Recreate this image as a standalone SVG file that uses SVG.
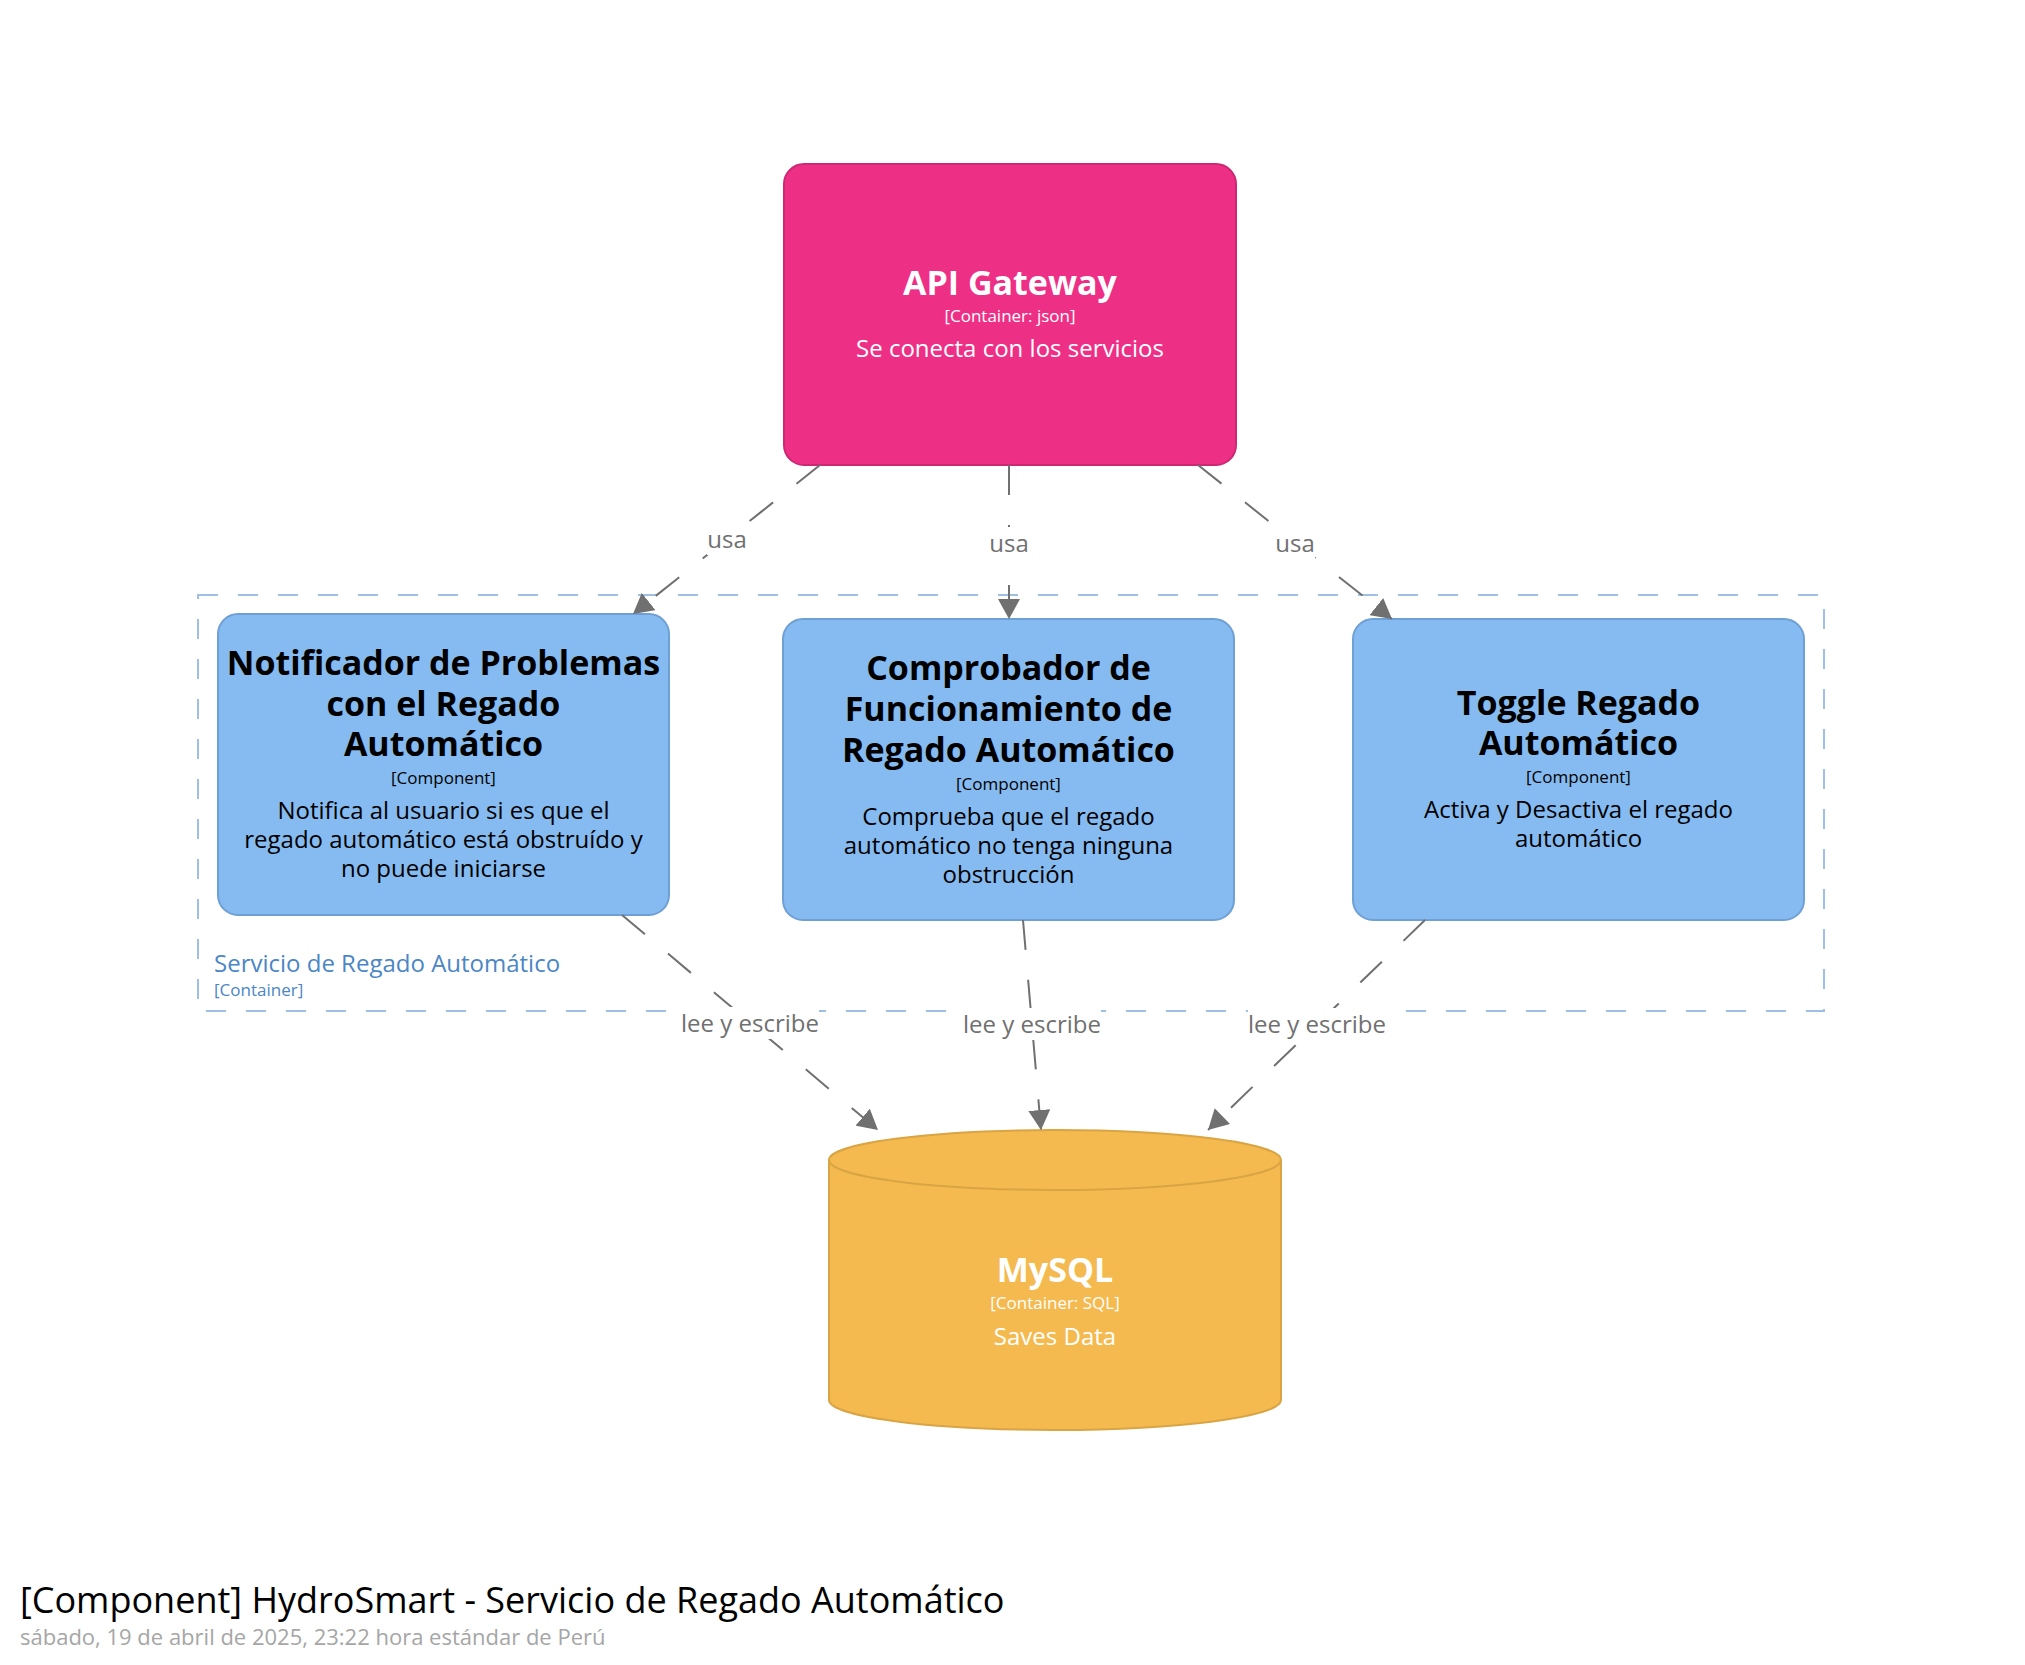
<svg xmlns="http://www.w3.org/2000/svg" width="2025" height="1665" viewBox="0 0 2025 1665">
<defs>
<style>
text{font-family:"Open Sans","Noto Sans","DejaVu Sans",sans-serif;text-anchor:middle}
.nm{font-size:34px;font-weight:bold}
.mt{font-size:17px}
.ds{font-size:24px}
.w{fill:#ffffff}
.k{fill:#000000}
.comp{fill:#85BBF0;stroke:#6E9FD5;stroke-width:2}
.rel{stroke:#707070;stroke-width:2;fill:none;stroke-dasharray:30 30;marker-end:url(#arr)}
.lbl{font-size:24px;fill:#707070}
.bg{fill:#ffffff}
</style>
<marker id="arr" viewBox="0 0 20 22" refX="20" refY="11" markerWidth="20" markerHeight="22" markerUnits="userSpaceOnUse" orient="auto">
<path d="M0,0 L20,11 L0,22 Z" fill="#707070"/>
</marker>
</defs>
<rect x="0" y="0" width="2025" height="1665" fill="#ffffff"/>

<g id="boundary">
<rect x="198" y="595" width="1626" height="416" fill="none" stroke="#9EC0E4" stroke-width="2" stroke-dasharray="20 20"/>
<text x="214" y="972" style="text-anchor:start;font-size:24px;fill:#4B86C6">Servicio de Regado Automático</text>
<text x="214" y="996" style="text-anchor:start;font-size:17px;fill:#4B86C6">[Container]</text>
</g>

<g id="api-gateway">
<rect x="784" y="164" width="452" height="301" rx="20" ry="20" fill="#EE2F86" stroke="#CC2874" stroke-width="2"/>
<text x="1010" y="295" class="nm w">API Gateway</text>
<text x="1010" y="322" class="mt w">[Container: json]</text>
<text x="1010" y="357" class="ds w">Se conecta con los servicios</text>
</g>

<g id="notificador">
<rect x="218" y="614" width="451" height="301" rx="20" ry="20" class="comp"/>
<text class="nm k"><tspan x="443.5" y="675">Notificador de Problemas</tspan><tspan x="443.5" y="716">con el Regado</tspan><tspan x="443.5" y="756">Automático</tspan></text>
<text x="443.5" y="784" class="mt k">[Component]</text>
<text class="ds k"><tspan x="443.5" y="819">Notifica al usuario si es que el</tspan><tspan x="443.5" y="848">regado automático está obstruído y</tspan><tspan x="443.5" y="877">no puede iniciarse</tspan></text>
</g>

<g id="comprobador">
<rect x="783" y="619" width="451" height="301" rx="20" ry="20" class="comp"/>
<text class="nm k"><tspan x="1008.5" y="680">Comprobador de</tspan><tspan x="1008.5" y="721">Funcionamiento de</tspan><tspan x="1008.5" y="762">Regado Automático</tspan></text>
<text x="1008.5" y="790" class="mt k">[Component]</text>
<text class="ds k"><tspan x="1008.5" y="825">Comprueba que el regado</tspan><tspan x="1008.5" y="854">automático no tenga ninguna</tspan><tspan x="1008.5" y="883">obstrucción</tspan></text>
</g>

<g id="toggle">
<rect x="1353" y="619" width="451" height="301" rx="20" ry="20" class="comp"/>
<text class="nm k"><tspan x="1578.5" y="715">Toggle Regado</tspan><tspan x="1578.5" y="755">Automático</tspan></text>
<text x="1578.5" y="783" class="mt k">[Component]</text>
<text class="ds k"><tspan x="1578.5" y="818">Activa y Desactiva el regado</tspan><tspan x="1578.5" y="847">automático</tspan></text>
</g>

<g id="mysql">
<path d="M829,1160 A226,30 0 0,1 1281,1160 L1281,1400 A226,30 0 0,1 829,1400 Z" fill="#F4BA4F" stroke="#D9A443" stroke-width="2"/>
<path d="M829,1160 A226,30 0 0,0 1281,1160" fill="none" stroke="#D9A443" stroke-width="2"/>
<text x="1055" y="1282" class="nm w">MySQL</text>
<text x="1055" y="1309" class="mt w">[Container: SQL]</text>
<text x="1055" y="1345" class="ds w">Saves Data</text>
</g>

<g id="connectors">
<line x1="820" y1="465" x2="633" y2="614" class="rel"/>
<line x1="1009" y1="465" x2="1009" y2="619" class="rel"/>
<line x1="1198" y1="465" x2="1392" y2="619" class="rel"/>
<line x1="622" y1="915" x2="878" y2="1130" class="rel"/>
<line x1="1023" y1="920" x2="1041" y2="1130" class="rel"/>
<line x1="1425" y1="920" x2="1208" y2="1130" class="rel"/>
<rect x="707" y="523" width="40" height="32" class="bg"/>
<text x="727" y="548" class="lbl">usa</text>
<rect x="989" y="527" width="40" height="32" class="bg"/>
<text x="1009" y="552" class="lbl">usa</text>
<rect x="1275" y="527" width="40" height="32" class="bg"/>
<text x="1295" y="552" class="lbl">usa</text>
<rect x="681" y="1007" width="138" height="32" class="bg"/>
<text x="750" y="1032" class="lbl">lee y escribe</text>
<rect x="963" y="1008" width="138" height="32" class="bg"/>
<text x="1032" y="1033" class="lbl">lee y escribe</text>
<rect x="1248" y="1008" width="138" height="32" class="bg"/>
<text x="1317" y="1033" class="lbl">lee y escribe</text>
</g>

<g id="title">
<text x="20" y="1613" style="text-anchor:start;font-size:36px;fill:#000000">[Component] HydroSmart - Servicio de Regado Automático</text>
<text x="20" y="1645" style="text-anchor:start;font-size:22px;fill:#A6A6A6">sábado, 19 de abril de 2025, 23:22 hora estándar de Perú</text>
</g>
</svg>
